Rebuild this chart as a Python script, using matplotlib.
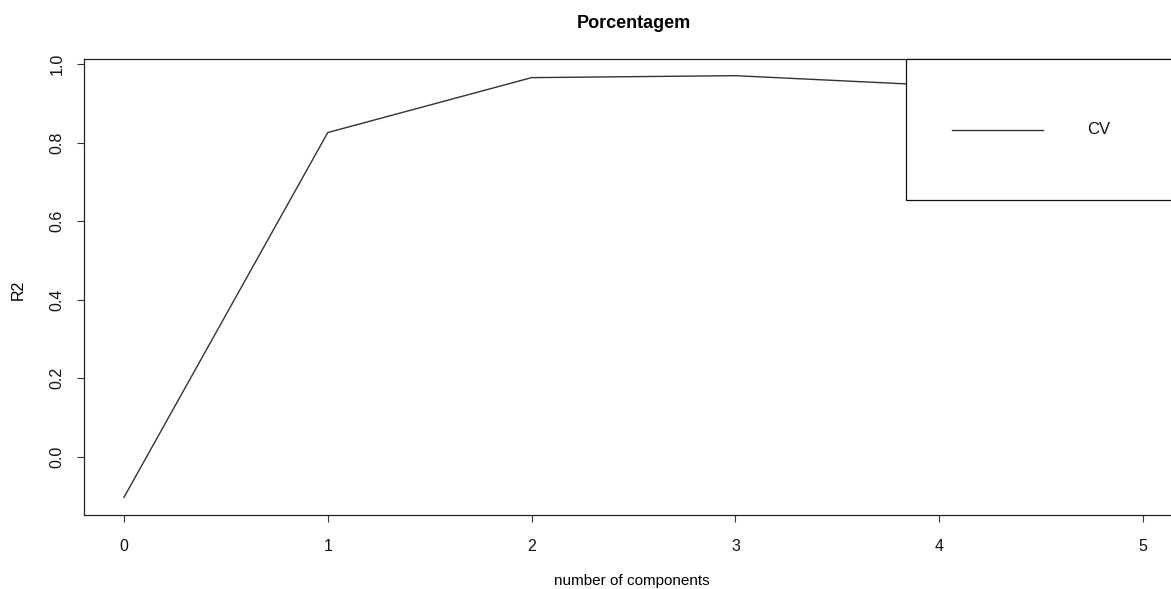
import matplotlib
matplotlib.use("Agg")
import matplotlib.pyplot as plt
from matplotlib.patches import Rectangle
from matplotlib.lines import Line2D

components = [0, 1, 2, 3, 4, 5]
r2_cv = [-0.104, 0.826, 0.966, 0.971, 0.946, 0.93]
x_ticks = [0, 1, 2, 3, 4, 5]
y_ticks = [0.0, 0.2, 0.4, 0.6, 0.8, 1.0]
y_ticklabels = ["0.0", "0.2", "0.4", "0.6", "0.8", "1.0"]

plt.rcParams['font.family'] = ['Liberation Sans', 'DejaVu Sans']

W, H = 1171, 589
fig = plt.figure(figsize=(W / 100, H / 100), dpi=100)
ax_l, ax_r, ax_t, ax_b = 84, 1183, 59, 515
ax = fig.add_axes([ax_l / W, 1 - ax_b / H, (ax_r - ax_l) / W, (ax_b - ax_t) / H])

ax.plot(components, r2_cv, color='#333333', linewidth=1.0, zorder=2)

ax.set_xlim(-0.196, 5.196)
ax.set_ylim(-0.149, 1.0135)
ax.set_xticks(x_ticks)
ax.set_xticklabels([str(v) for v in x_ticks])
ax.set_yticks(y_ticks)
ax.set_yticklabels(y_ticklabels, rotation=90, va='center')
ax.tick_params(axis='both', direction='out', length=5.2, width=0.8,
               labelsize=11.5, color='#333333', labelcolor='#111111')
ax.tick_params(axis='x', pad=12)
ax.tick_params(axis='y', pad=9)
for s in ax.spines.values():
    s.set_linewidth(0.9)
    s.set_color('#222222')

ax.set_title("Porcentagem", fontsize=13, fontweight='bold', pad=22)

aw, ah = ax_r - ax_l, ax_b - ax_t
ax.set_xlabel("number of components", fontsize=11)
ax.xaxis.set_label_coords((632 - ax_l) / aw, (ax_b - 581) / ah)
ax.xaxis.label.set_va('center')
ax.set_ylabel("R2", fontsize=11.5)
ax.yaxis.set_label_coords((18 - ax_l) / aw, (ax_b - 290) / ah)
ax.yaxis.label.set_ha('center')
ax.yaxis.label.set_va('center')

# legend (R style, top right, white filled box)
lx0 = (906 - ax_l) / aw
ly0 = (ax_b - 200) / ah
rect = Rectangle((lx0, ly0), 1 - lx0, 1 - ly0, transform=ax.transAxes,
                 facecolor='white', edgecolor='#111111', linewidth=0.9,
                 zorder=5, clip_on=False)
ax.add_patch(rect)
ly = (ax_b - 130) / ah
ax.add_line(Line2D([(952 - ax_l) / aw, (1043 - ax_l) / aw], [ly, ly],
                   transform=ax.transAxes, color='#333333', linewidth=1.0,
                   zorder=6, clip_on=False))
ax.text((1087 - ax_l) / aw, ly, "CV", transform=ax.transAxes, fontsize=12,
        va='center', ha='left', zorder=6, color='#111111')

fig.savefig("out.png", dpi=100)
